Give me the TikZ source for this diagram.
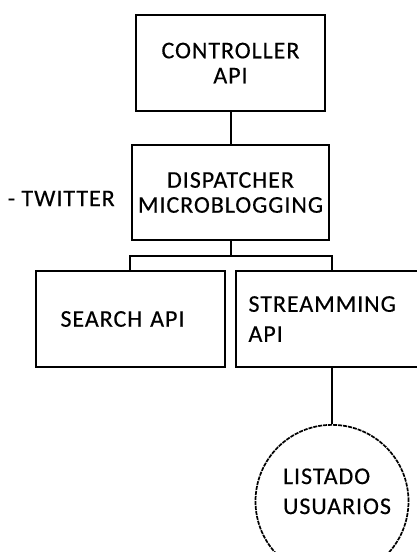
\documentclass[tikz,border=0pt]{standalone}
\usepackage{fontspec}
\setmainfont{Carlito}[LetterSpace=4,FakeBold=0.35]
\usetikzlibrary{positioning}

\tikzset{
	caja/.style={draw, line width=2pt, minimum width=189pt, minimum height=96pt,
		inner sep=0pt, font=\fontsize{24}{25}\selectfont},
	usuario/.style={draw, circle, dash pattern=on 4pt off 1pt, line width=1.7pt,
		minimum size=153pt, inner sep=0pt},
	texto/.style={inner sep=0pt, font=\fontsize{24}{30}\selectfont},
	rama/.style={line width=2pt},
}

\begin{document}
\begin{tikzpicture}[x=1pt,y=-1pt]
		\clip (0,0) rectangle (417,552);
		% 1. 上面两个框
		\node [caja, align=center] (controller) at (230.5,63) {CONTROLLER\\API};
		\node [caja, align=center, minimum width=197pt, minimum height=95pt,
			below=32pt of controller] (dispatcher) {DISPATCHER\\MICROBLOGGING};
		\node [texto, left=16pt of dispatcher, yshift=-6pt] (twitter) {- TWITTER};
		
		% 2. 下面两个框 (右边的被截掉)
		\node [caja, text width=139pt, align=left, below=29pt of dispatcher,
			xshift=-100.5pt] (search) {SEARCH API};
		\node [caja, text width=167pt, align=left, minimum width=193pt,
			font=\fontsize{24}{30}\selectfont, right=9pt of search] (streaming) {STREAMMING\\API};
		
		% 3. 圆圈
		\node [usuario, below=56pt of streaming] (listado) {};
		\node [texto, align=left, xshift=5pt, yshift=10pt] (listadotxt) at (listado) {LISTADO\\USUARIOS};
		
		% 4. 连线
		\coordinate [below=15pt of dispatcher] (split);
		\draw [rama] (controller) -- (dispatcher);
		\draw [rama] (dispatcher) -- (split);
		\draw [rama] (search) |- (split) -| (streaming);
		\draw [rama] (streaming) -- (listado);
\end{tikzpicture}
\end{document}
